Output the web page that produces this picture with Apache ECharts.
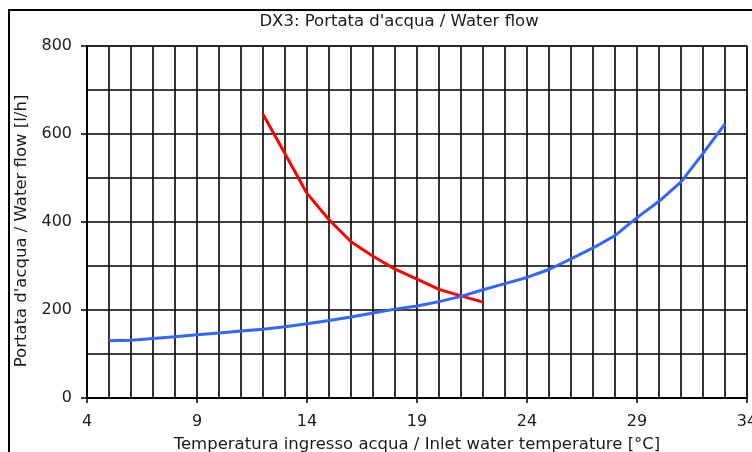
<!DOCTYPE html>
<html>
<head>
<meta charset="utf-8">
<script src="https://cdn.jsdelivr.net/npm/echarts@6/dist/echarts.min.js"></script>
<style>html,body{margin:0;padding:0;background:#fff}#c{width:752px;height:452px}</style>
</head>
<body>
<div id="c"></div>
<script>
const chartTitle = "DX3: Portata d'acqua / Water flow";
const xTitle = "Temperatura ingresso acqua / Inlet water temperature [°C]";
const yTitle = "Portata d'acqua / Water flow [l/h]";
const xTickLabels = [4, 9, 14, 19, 24, 29, 34];
const yTickLabels = [0, 200, 400, 600, 800];

const redX = [12, 13, 14, 15, 16, 17, 18, 19, 20, 21, 22];
const redY = [645, 555, 465, 405, 355, 322, 293, 270, 247, 232, 218];

const blueX = [5, 6, 7, 8, 9, 10, 11, 12, 13, 14, 15, 16, 17, 18, 19, 20, 21, 22, 23, 24, 25, 26, 27, 28, 29, 30, 31, 32, 33];
const blueY = [130, 131, 135, 139, 144, 148, 152, 156, 162, 169, 176, 184, 193, 202, 209, 219, 231, 246, 260, 274, 292, 316, 341, 369, 410, 447, 491, 556, 623];

const FONT = 'DejaVu Sans';
const TXT = '#1a1a1a';
const TITLE_SIZE = 16.5;

const chart = echarts.init(document.getElementById('c'), null, {renderer: 'canvas'});
chart.setOption({
  animation: false,
  backgroundColor: '#fff',
  grid: {left: 87, right: 5, top: 46, bottom: 54, show: true, borderColor: '#999', borderWidth: 2, backgroundColor: 'transparent', outerBoundsMode: 'none', containLabel: false},
  xAxis: [
    {
      type: 'value', min: 4, max: 34, interval: 1,
      axisLine: {show: true, onZero: false, lineStyle: {color: '#000', width: 2}},
      axisTick: {show: false},
      axisLabel: {show: false},
      splitLine: {show: true, lineStyle: {color: '#000', width: 1.6}}
    },
    {
      type: 'value', min: 4, max: 34, position: 'bottom',
      axisLine: {show: false},
      axisTick: {show: true, customValues: xTickLabels, length: 5, lineStyle: {color: '#000', width: 1.5}},
      axisLabel: {customValues: xTickLabels, margin: 16, color: TXT, fontFamily: FONT, fontSize: 16},
      splitLine: {show: false},
      name: xTitle, nameLocation: 'middle', nameGap: 38,
      nameTextStyle: {color: TXT, fontFamily: FONT, fontSize: TITLE_SIZE}
    }
  ],
  yAxis: [
    {
      type: 'value', min: 0, max: 800, interval: 100,
      axisLine: {show: true, lineStyle: {color: '#000', width: 2}},
      axisTick: {show: false},
      axisLabel: {show: false},
      splitLine: {show: true, lineStyle: {color: '#000', width: 1.6}}
    },
    {
      type: 'value', min: 0, max: 800, position: 'left',
      axisLine: {show: false},
      axisTick: {show: true, customValues: yTickLabels, length: 6, lineStyle: {color: '#000', width: 1.5}},
      axisLabel: {customValues: yTickLabels, margin: 15, color: TXT, fontFamily: FONT, fontSize: 16},
      splitLine: {show: false}
    }
  ],
  graphic: [
    {type: 'rect', shape: {x: 9, y: 10, width: 800, height: 500}, style: {fill: 'none', stroke: '#000', lineWidth: 2}, silent: true, z: -1},
    {type: 'text', x: 399, y: 22, style: {text: chartTitle, fill: TXT, font: TITLE_SIZE + 'px "DejaVu Sans"', textAlign: 'center', textVerticalAlign: 'middle'}},
    {type: 'text', x: 22, y: 231, rotation: Math.PI / 2, style: {text: yTitle, fill: TXT, font: TITLE_SIZE + 'px "DejaVu Sans"', textAlign: 'center', textVerticalAlign: 'middle'}}
  ],
  series: [
    {type: 'line', xAxisIndex: 0, yAxisIndex: 0, data: redX.map((x, i) => [x, redY[i]]), showSymbol: false, lineStyle: {color: '#ff0000', width: 3}, z: 5},
    {type: 'line', xAxisIndex: 0, yAxisIndex: 0, data: blueX.map((x, i) => [x, blueY[i]]), showSymbol: false, lineStyle: {color: '#3366ff', width: 3}, z: 5}
  ]
});
</script>
</body>
</html>
